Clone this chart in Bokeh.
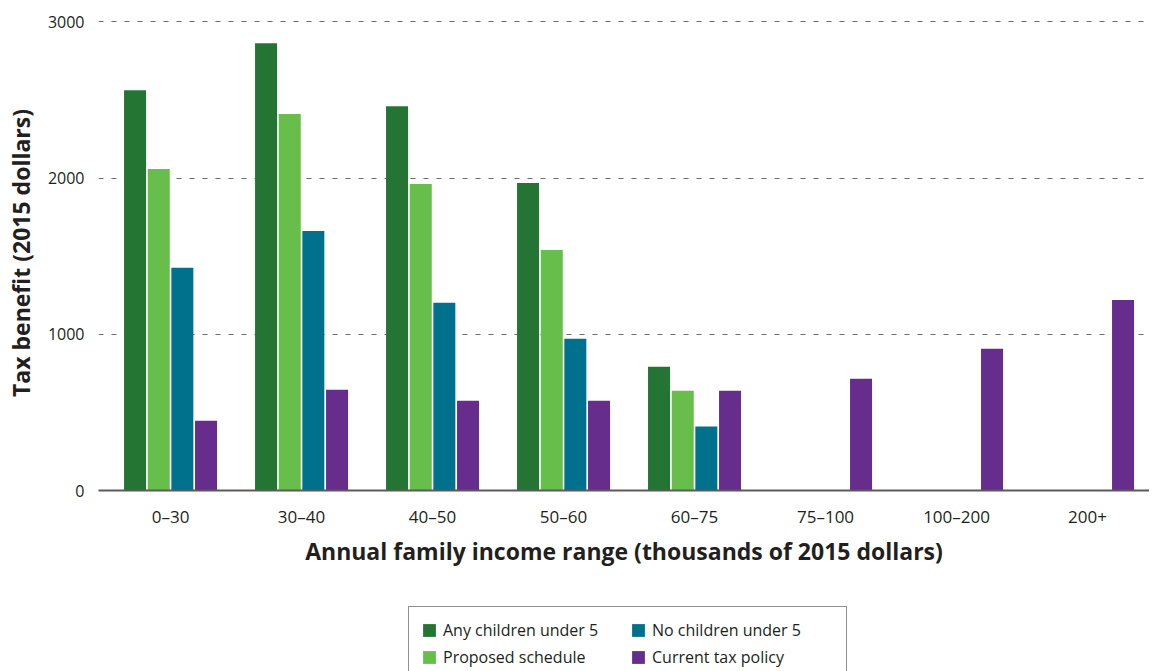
from bokeh.plotting import figure
from bokeh.layouts import column
from bokeh.models import (ColumnDataSource, Range1d, FixedTicker, Legend, LegendItem)
from bokeh.transform import dodge
from bokeh.embed import file_html
from bokeh.resources import INLINE

categories = ["0\u201330", "30\u201340", "40\u201350", "50\u201360", "60\u201375",
              "75\u2013100", "100\u2013200", "200+"]
any_children_under_5 = [2562, 2863, 2460, 1968, 792, None, None, None]
proposed_schedule = [2058, 2409, 1962, 1540, 639, None, None, None]
no_children_under_5 = [1425, 1661, 1201, 971, 409, None, None, None]
current_tax_policy = [447, 645, 575, 575, 639, 716, 907, 1220]
y_ticks = [0, 1000, 2000, 3000]
series_labels = ["Any children under 5", "Proposed schedule",
                 "No children under 5", "Current tax policy"]

nan = float("nan")
def clean(v):
    return [nan if a is None else a for a in v]

src = ColumnDataSource(dict(
    x=list(range(len(categories))),
    a=clean(any_children_under_5),
    b=clean(proposed_schedule),
    c=clean(no_children_under_5),
    d=clean(current_tax_policy),
))

FONT = "Open Sans"
TXT = "#231f20"

p = figure(width=1149, height=598, output_backend="svg", toolbar_location=None,
           x_range=Range1d(-0.55, 7.473), y_range=Range1d(0, 3040),
           min_border_left=98, min_border_right=0, min_border_top=15,
           min_border_bottom=108)
p.outline_line_color = None
p.background_fill_color = "white"

colors = ["#247434", "#67be4b", "#00718c", "#662d8c"]
offsets = [-0.271, -0.090, 0.090, 0.271]
for col, color, off in zip(["a", "b", "c", "d"], colors, offsets):
    p.vbar(x=dodge("x", off), top=col, bottom=0, width=0.168, source=src,
           fill_color=color, line_color=None)

# axes
p.xaxis.ticker = FixedTicker(ticks=list(range(len(categories))))
p.xaxis.major_label_overrides = {i: c for i, c in enumerate(categories)}
p.xaxis.axis_line_color = "#5a5a5a"
p.xaxis.axis_line_width = 2
p.xaxis.major_tick_line_color = None
p.xaxis.minor_tick_line_color = None
p.xaxis.major_label_standoff = 8
p.xaxis.major_label_text_font = FONT
p.xaxis.major_label_text_font_size = "17px"
p.xaxis.major_label_text_color = TXT
p.xaxis.axis_label = "Annual family income range (thousands of 2015 dollars)"
p.xaxis.axis_label_text_font = FONT
p.xaxis.axis_label_text_font_size = "23px"
p.xaxis.axis_label_text_font_style = "bold"
p.xaxis.axis_label_text_color = TXT
p.xaxis.axis_label_standoff = 4

p.yaxis.ticker = FixedTicker(ticks=y_ticks)
p.yaxis.axis_line_color = None
p.yaxis.major_tick_line_color = None
p.yaxis.minor_tick_line_color = None
p.yaxis.major_label_standoff = 8
p.yaxis.major_label_text_font = FONT
p.yaxis.major_label_text_font_size = "16px"
p.yaxis.major_label_text_color = TXT
p.yaxis.axis_label = "Tax benefit (2015 dollars)"
p.yaxis.axis_label_text_font = FONT
p.yaxis.axis_label_text_font_size = "23px"
p.yaxis.axis_label_text_font_style = "bold"
p.yaxis.axis_label_text_color = TXT
p.yaxis.axis_label_standoff = 8

p.xgrid.grid_line_color = None
p.ygrid.grid_line_color = "#6d6d6d"
p.ygrid.grid_line_dash = "5 8"
p.ygrid.grid_line_width = 1

# legend strip beneath the chart
lg = figure(width=1149, height=73, output_backend="svg", toolbar_location=None,
            x_range=Range1d(0, 1), y_range=Range1d(0, 1),
            x_axis_location=None, y_axis_location=None,
            min_border_left=98, min_border_right=0, min_border_top=0,
            min_border_bottom=0)
lg.outline_line_color = None
lg.xgrid.grid_line_color = None
lg.ygrid.grid_line_color = None
swatch_src = ColumnDataSource(dict(x=[nan], top=[nan]))
items = []
for lab, color in zip(series_labels, colors):
    r = lg.vbar(x="x", top="top", width=0.1, source=swatch_src,
                fill_color=color, line_color=None)
    items.append(LegendItem(label=lab, renderers=[r]))

legend = Legend(items=items, orientation="vertical", nrows=2,
                location=(310, -10), border_line_color=TXT, border_line_width=1,
                label_text_font=FONT, label_text_font_size="16px",
                label_text_color=TXT, glyph_width=16, glyph_height=16,
                label_height=20, label_standoff=6, spacing=5, padding=12,
                label_width=182, margin=0)
lg.add_layout(legend, "center")

layout = column(p, lg, spacing=0)
open("out.html", "w").write(file_html(layout, INLINE))
